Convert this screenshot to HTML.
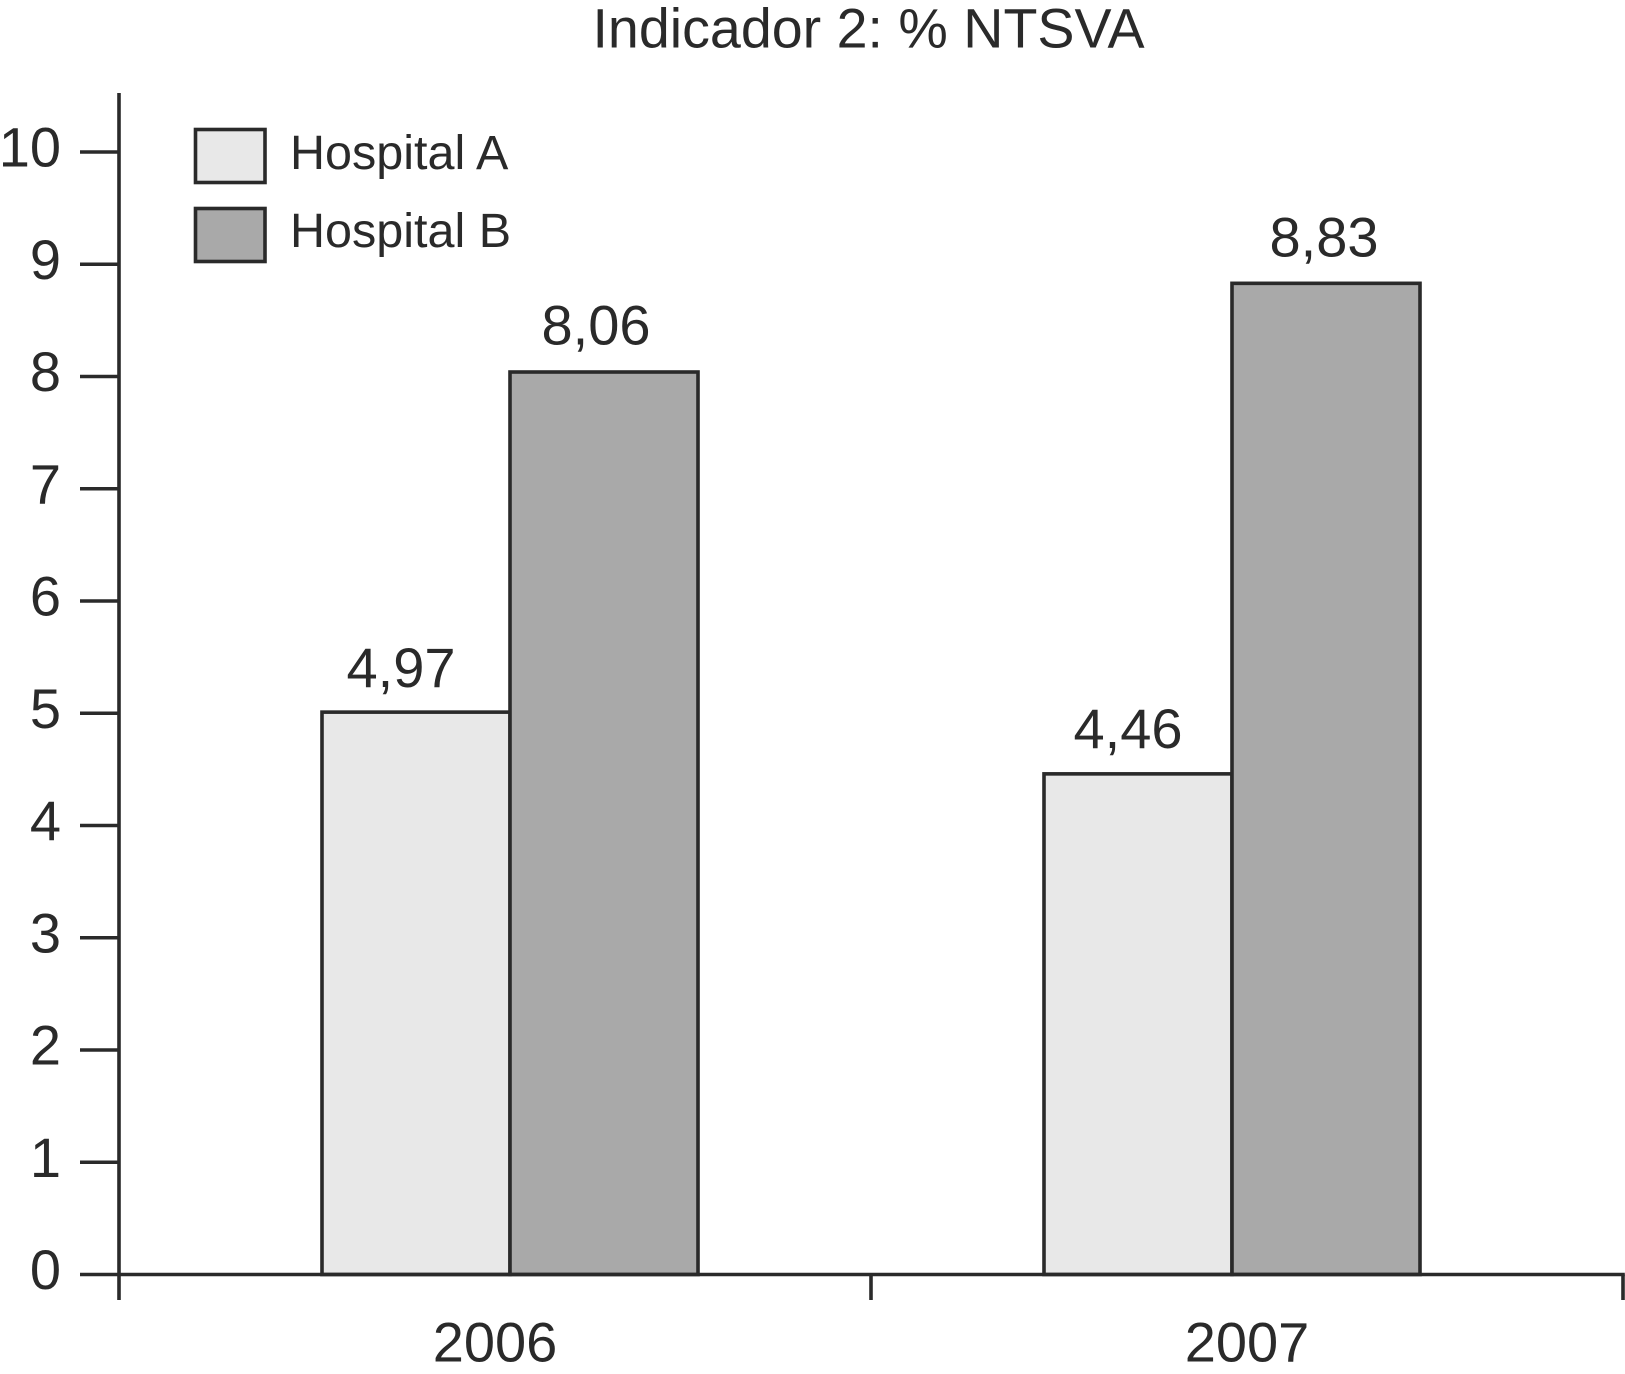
<!DOCTYPE html>
<html lang="pt">
<head>
<meta charset="utf-8">
<title>Indicador 2: % NTSVA</title>
<style>
html,body{margin:0;padding:0;background:#fff;width:1625px;height:1374px;overflow:hidden}
svg{display:block}
text{font-family:"Liberation Sans",sans-serif;fill:#2a2a2a}
</style>
</head>
<body>
<svg id="chart" width="1625" height="1374" viewBox="0 0 1625 1374" xmlns="http://www.w3.org/2000/svg">
  <text x="868.5" y="47.5" font-size="55.6" text-anchor="middle">Indicador 2: % NTSVA</text>
  <g id="bars"></g>
  <g id="value-labels"></g>
  <g id="axes"></g>
  <g>
    <rect x="195.5" y="129.5" width="69.5" height="53" fill="#e8e8e8" stroke="#2a2a2a" stroke-width="3.6"/>
    <text x="290" y="169" font-size="48.5">Hospital A</text>
    <rect x="195.5" y="208.5" width="69.5" height="53" fill="#a9a9a9" stroke="#2a2a2a" stroke-width="3.6"/>
    <text x="290" y="247" font-size="48.5">Hospital B</text>
  </g>
</svg>
<script>
const categories = ["2006", "2007"];
const yTickValues = [0, 1, 2, 3, 4, 5, 6, 7, 8, 9, 10];
const hospitalA = [5.01, 4.46];
const hospitalB = [8.04, 8.83];
const hospitalALabels = ["4,97", "4,46"];
const hospitalBLabels = ["8,06", "8,83"];

const NS = "http://www.w3.org/2000/svg";
const INK = "#2a2a2a";
const Y0 = 1274.5, UNIT = 112.25;
const XL = 119, XR = 1623, YTOP = 93, TICK_BOTTOM = 1300;
const BAR_W = 188;
const STROKE = 3.6;

function yScale(v) { return Y0 - v * UNIT; }
function bandEdge(i) { return XL + (XR - XL) / categories.length * i; }
function bandCenter(i) { return (bandEdge(i) + bandEdge(i + 1)) / 2; }
function groupCenter(i) { return bandCenter(i) + (i === 0 ? 15 : -15); }

function make(tag, attrs, parent) {
  const n = document.createElementNS(NS, tag);
  for (const k in attrs) n.setAttribute(k, attrs[k]);
  parent.appendChild(n);
  return n;
}

const barsG = document.getElementById("bars");
const labelsG = document.getElementById("value-labels");
const axesG = document.getElementById("axes");

function drawBar(i, series, seriesIndex, fill, name) {
  const x = groupCenter(i) + (seriesIndex === 0 ? -BAR_W : 0);
  const y = yScale(series[i]);
  const r = make("rect", { x: x, y: y, width: BAR_W, height: Y0 - y, fill: fill, stroke: INK, "stroke-width": STROKE }, barsG);
  
  
}

function drawValue(i, series, texts, seriesIndex, name) {
  const nudges = seriesIndex === 0 ? [-15, -10] : [-8, -2];
  const lifts = seriesIndex === 0 ? [25, 26] : [27.5, 27];
  const barCenter = groupCenter(i) + (seriesIndex === 0 ? -BAR_W / 2 : BAR_W / 2);
  const t = make("text", { x: barCenter + nudges[i], y: yScale(series[i]) - lifts[i], "font-size": 56, "text-anchor": "middle" }, labelsG);
  t.textContent = texts[i];
  
  
}

categories.forEach(function (c, i) {
  drawBar(i, hospitalA, 0, "#e8e8e8", "bar-hospital-a");
  drawBar(i, hospitalB, 1, "#a9a9a9", "bar-hospital-b");
  drawValue(i, hospitalA, hospitalALabels, 0, "value-label-hospital-a");
  drawValue(i, hospitalB, hospitalBLabels, 1, "value-label-hospital-b");
});

const yAxis = make("line", { x1: XL, x2: XL, y1: YTOP, y2: TICK_BOTTOM, stroke: INK, "stroke-width": STROKE }, axesG);



const xAxis = make("line", { x1: 80, x2: XR + 1.8, y1: Y0, y2: Y0, stroke: INK, "stroke-width": STROKE }, axesG);



yTickValues.forEach(function (v) {
  const y = yScale(v);
  if (v !== 0) {
    const tick = make("line", { x1: 80, x2: XL, y1: y, y2: y, stroke: INK, "stroke-width": STROKE }, axesG);
    
    
  }
  const label = make("text", { x: 61, y: y + 14.5, "font-size": 56, "text-anchor": "end" }, axesG);
  label.textContent = String(v);
  
  
});

for (let i = 1; i <= categories.length; i++) {
  const x = bandEdge(i);
  const tick = make("line", { x1: x, x2: x, y1: Y0, y2: TICK_BOTTOM, stroke: INK, "stroke-width": STROKE }, axesG);
  
  
}

categories.forEach(function (c, i) {
  const label = make("text", { x: bandCenter(i), y: 1361.5, "font-size": 56, "text-anchor": "middle" }, axesG);
  label.textContent = c;
  
  
});
</script>
</body>
</html>
